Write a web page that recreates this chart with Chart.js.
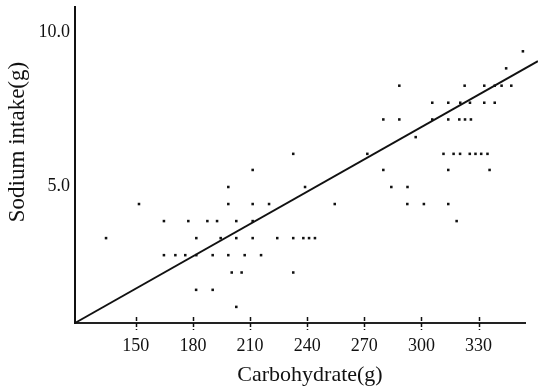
<!DOCTYPE html>
<html>
<head>
<meta charset="utf-8">
<script src="https://cdn.jsdelivr.net/npm/chart.js@4.4.1/dist/chart.umd.min.js"></script>
<style>
  html, body { margin: 0; padding: 0; background: #ffffff; }
  #wrap { width: 538px; height: 387px; }
</style>
</head>
<body>
<div id="wrap"><canvas id="c" width="538" height="387"></canvas></div>
<script>
// Carbohydrate intake (g) for each subject
const carbohydrate = [
  353.3,
  344.5,
  288.4, 322.7, 333.0, 338.5, 342.1, 347.2,
  305.7, 314.1, 320.4, 325.5, 333.0, 338.5,
  280.0, 288.4, 305.7, 314.1, 319.9, 322.9, 326.0,
  297.0,
  232.7, 271.6, 311.6, 316.9, 320.3, 325.4, 328.4, 331.4, 334.7,
  211.4, 280.0, 314.1, 335.8,
  198.6, 238.9, 284.2, 292.7,
  151.7, 198.6, 211.4, 220.0, 254.5, 292.6, 301.3, 314.1,
  164.8, 177.6, 187.6, 192.7, 202.8, 211.4, 318.5,
  134.4, 181.8, 194.6, 202.8, 211.4, 224.3, 232.7, 238.0, 241.0, 244.1,
  164.8, 170.8, 176.0, 181.8, 190.4, 198.6, 207.2, 215.8,
  200.4, 205.6, 232.7,
  181.7, 190.4,
  202.8
];
// Sodium intake (g) for each subject
const sodium = [
  9.37,
  8.82,
  8.26, 8.26, 8.26, 8.26, 8.26, 8.26,
  7.71, 7.71, 7.71, 7.71, 7.71, 7.71,
  7.17, 7.17, 7.17, 7.17, 7.17, 7.17, 7.17,
  6.60,
  6.06, 6.06, 6.06, 6.06, 6.06, 6.06, 6.06, 6.06, 6.06,
  5.54, 5.54, 5.54, 5.54,
  4.99, 4.99, 4.99, 4.99,
  4.44, 4.44, 4.44, 4.44, 4.44, 4.44, 4.44, 4.44,
  3.89, 3.89, 3.89, 3.89, 3.89, 3.89, 3.89,
  3.34, 3.34, 3.34, 3.34, 3.34, 3.34, 3.34, 3.34, 3.34, 3.34,
  2.79, 2.79, 2.79, 2.79, 2.79, 2.79, 2.79, 2.79,
  2.23, 2.23, 2.23,
  1.67, 1.67,
  1.12
];
// Regression line end points
const fitCarbohydrate = [118.1, 361.2];
const fitSodium = [0.60, 9.05];
// Axis ticks
const xTicks = [150, 180, 210, 240, 270, 300, 330];
const yTicks = [5.0, 10.0];
const xTitle = 'Carbohydrate(g)';
const yTitle = 'Sodium intake(g)';

const points = carbohydrate.map((c, i) => ({ x: c, y: sodium[i] }));
const fitLine = fitCarbohydrate.map((c, i) => ({ x: c, y: fitSodium[i] }));

const FONT = '"Liberation Serif", "DejaVu Serif", serif';

const axisDecor = {
  id: 'axisDecor',
  afterDraw(chart) {
    const ctx = chart.ctx;
    const xs = chart.scales.x;
    const ca = chart.chartArea;
    ctx.save();
    // tick marks crossing the x axis
    ctx.strokeStyle = '#111';
    ctx.lineWidth = 1.5;
    ctx.setLineDash([4, 2]);
    xs.ticks.forEach(t => {
      const px = Math.round(xs.getPixelForValue(t.value)) + 0.5;
      ctx.beginPath();
      ctx.moveTo(px, ca.bottom - 6);
      ctx.lineTo(px, ca.bottom + 7);
      ctx.stroke();
    });
    ctx.setLineDash([]);
    // axis titles
    ctx.fillStyle = '#111';
    ctx.textAlign = 'center';
    ctx.textBaseline = 'middle';
    ctx.font = '22px ' + FONT;
    ctx.fillText(xTitle, ca.left + 235, ca.bottom + 52);
    ctx.font = '23px ' + FONT;
    ctx.translate(ca.left - 57, ca.top + 135);
    ctx.rotate(-Math.PI / 2);
    ctx.fillText(yTitle, 0, 0);
    ctx.restore();
  }
};

new Chart(document.getElementById('c'), {
  data: {
    datasets: [
      {
        type: 'scatter',
        data: points,
        backgroundColor: '#111',
        borderColor: '#111',
        pointRadius: 1.8,
        pointBorderWidth: 0,
        pointStyle: 'rect'
      },
      {
        type: 'line',
        data: fitLine,
        borderColor: '#111',
        borderWidth: 2,
        pointRadius: 0,
        fill: false,
        clip: false
      }
    ]
  },
  options: {
    responsive: false,
    animation: false,
    layout: { padding: { top: 7, right: 13, left: 0, bottom: 0 } },
    plugins: { legend: { display: false }, tooltip: { enabled: false } },
    scales: {
      x: {
        type: 'linear',
        min: 118.1,
        max: 354.4,
        afterBuildTicks: s => { s.ticks = xTicks.map(v => ({ value: v })); },
        afterFit: s => { s.height = 64; s.paddingLeft = 0; s.paddingRight = 0; },
        grid: { display: true, drawOnChartArea: false, drawTicks: false },
        border: { display: true, width: 2, color: '#222' },
        ticks: {
          autoSkip: false, maxRotation: 0, padding: 12,
          color: '#111',
          font: { family: FONT, size: 18 },
          callback: v => String(v)
        },
        title: { display: false }
      },
      y: {
        type: 'linear',
        min: 0.6,
        max: 10.8,
        afterBuildTicks: s => { s.ticks = yTicks.map(v => ({ value: v })); },
        afterFit: s => { s.width = 75; s.paddingTop = 0; s.paddingBottom = 0; },
        grid: { display: true, drawOnChartArea: false, drawTicks: false },
        border: { display: true, width: 2, color: '#111' },
        ticks: {
          autoSkip: false, padding: 5,
          color: '#111',
          font: { family: FONT, size: 18 },
          callback: v => Number(v).toFixed(1)
        },
        title: { display: false }
      }
    }
  },
  plugins: [axisDecor]
});
</script>
</body>
</html>
